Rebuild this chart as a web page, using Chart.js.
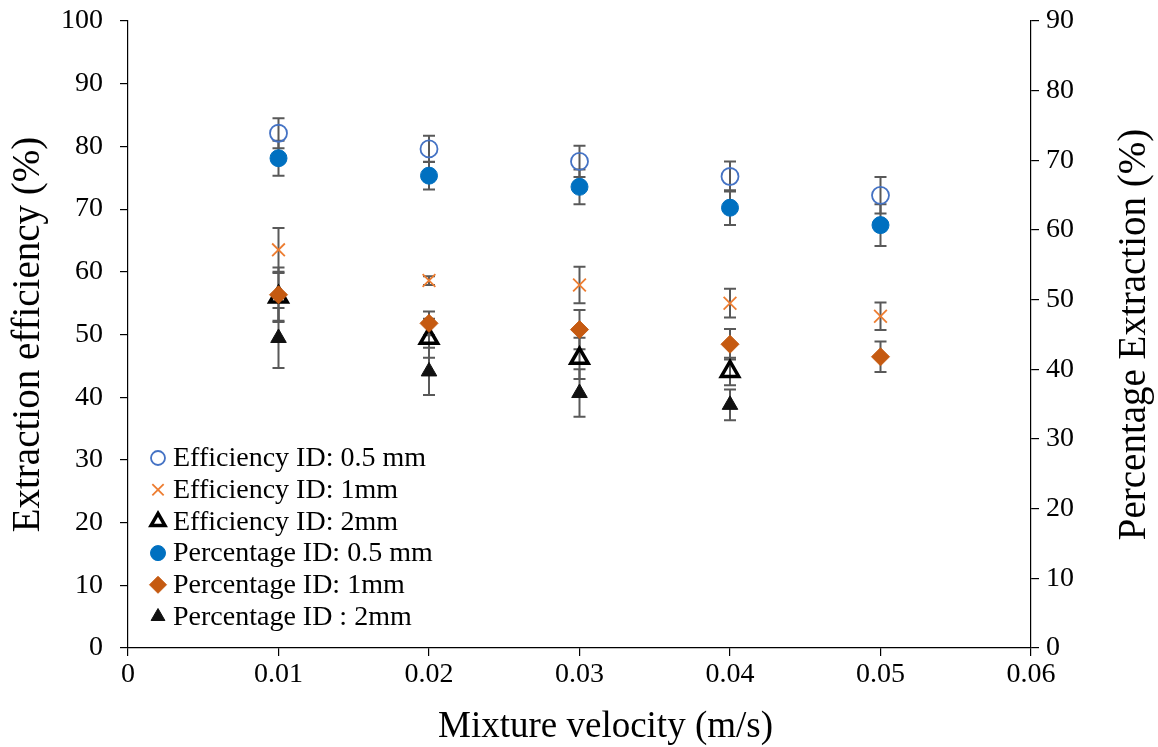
<!DOCTYPE html>
<html>
<head>
<meta charset="utf-8">
<script src="https://cdn.jsdelivr.net/npm/chart.js@4.4.1/dist/chart.umd.min.js"></script>
<style>
  html, body { margin: 0; padding: 0; background: #fff; }
  #wrap { width: 1158px; height: 747px; }
</style>
</head>
<body>
<div id="wrap"><canvas id="grafico" width="1158" height="747"></canvas></div>
<script>
// Datos
const velocidad = [0.01, 0.02, 0.03, 0.04, 0.05];
const ejeXTicks = [0, 0.01, 0.02, 0.03, 0.04, 0.05, 0.06];

const efic05 = [82.1, 79.6, 77.6, 75.2, 72.2];
const efic05Err = [2.4, 2.1, 2.5, 2.4, 2.9];
const efic1 = [63.5, 58.6, 57.9, 55.0, 52.9];
const efic1Err = [3.5, 0.7, 2.9, 2.3, 2.2];
const efic2 = [56.0, 49.4, 46.2, 44.1];
const efic2Err = [3.8, 3.1, 3.3, 2.2];

const porc05 = [70.3, 67.8, 66.2, 63.2, 60.7];
const porc05Err = [2.5, 2.0, 2.5, 2.5, 3.0];
const porc1 = [50.7, 46.6, 45.7, 43.6, 41.8];
const porc1Err = [3.9, 1.7, 2.8, 2.2, 2.2];
const porc2 = [44.5, 39.7, 36.6, 34.9];
const porc2Err = [4.3, 3.4, 3.4, 2.2];

const tituloX = "Mixture velocity (m/s)";
const tituloDerecho = "Percentage Extraction (%)";

const fuente = "'Liberation Serif', 'Times New Roman', serif";
Chart.defaults.font.family = fuente;
Chart.defaults.color = "#000";

const puntos = (valores) => valores.map((v, i) => ({ x: velocidad[i], y: v }));

// barras de error dibujadas con las escalas del grafico
const barrasError = {
  id: "barrasError",
  beforeDatasetsDraw(chart) {
    const ctx = chart.ctx;
    ctx.save();
    ctx.strokeStyle = "#595959";
    ctx.lineWidth = 2;
    chart.data.datasets.forEach((ds, i) => {
      const meta = chart.getDatasetMeta(i);
      const escala = chart.scales[ds.yAxisID];
      meta.data.forEach((pt, j) => {
        const v = ds.data[j].y;
        const e = ds.errores[j];
        const arriba = escala.getPixelForValue(v + e);
        const abajo = escala.getPixelForValue(v - e);
        ctx.beginPath();
        ctx.moveTo(pt.x, arriba);
        ctx.lineTo(pt.x, abajo);
        ctx.moveTo(pt.x - 6, arriba);
        ctx.lineTo(pt.x + 6, arriba);
        ctx.moveTo(pt.x - 6, abajo);
        ctx.lineTo(pt.x + 6, abajo);
        ctx.stroke();
      });
    });
    ctx.restore();
  },
};

// leyenda dentro del area, titulo X y titulo del eje derecho (de abajo hacia arriba)
const leyenda = {
  id: "leyenda",
  afterDraw(chart) {
    const ctx = chart.ctx;
    const area = chart.chartArea;
    ctx.save();
    ctx.font = "28px " + fuente;
    ctx.textBaseline = "middle";
    ctx.textAlign = "left";
    chart.data.datasets.forEach((ds, i) => {
      const y = area.top + 437 + i * 31.7;
      const x = area.left + 30;
      ctx.fillStyle = ds.backgroundColor;
      ctx.strokeStyle = ds.borderColor;
      ctx.lineWidth = ds.borderWidth;
      Chart.helpers.drawPoint(
        ctx,
        {
          pointStyle: ds.pointStyle,
          radius: ds.radioLeyenda,
          borderWidth: ds.borderWidth,
          rotation: 0,
        },
        x,
        y
      );
      ctx.fillStyle = "#000";
      ctx.fillText(ds.label, x + 15, y + 1);
    });

    ctx.textAlign = "center";
    ctx.font = "37px " + fuente;
    ctx.fillText(tituloX, (area.left + area.right) / 2 + 26, chart.height - 20);

    const der = chart.scales.y1;
    ctx.translate(der.right - 23, (area.top + area.bottom) / 2);
    ctx.rotate(-Math.PI / 2);
    ctx.font = "39px " + fuente;
    ctx.fillText(tituloDerecho, 0, 0);
    ctx.restore();
  },
};

const sinRellenoV = (ancho) => (s) => {
  s.width = ancho;
  s.paddingTop = 0;
  s.paddingBottom = 0;
};

new Chart(document.getElementById("grafico"), {
  type: "scatter",
  data: {
    datasets: [
      {
        label: "Efficiency ID: 0.5 mm",
        data: puntos(efic05),
        errores: efic05Err,
        yAxisID: "y",
        pointStyle: "circle",
        pointRadius: 8.5,
        radioLeyenda: 7,
        borderWidth: 1.8,
        borderColor: "#4472C4",
        backgroundColor: "rgba(255,255,255,0)",
        order: 2,
      },
      {
        label: "Efficiency ID: 1mm",
        data: puntos(efic1),
        errores: efic1Err,
        yAxisID: "y",
        pointStyle: "crossRot",
        pointRadius: 9,
        radioLeyenda: 8,
        borderWidth: 1.8,
        borderColor: "#ED7D31",
        backgroundColor: "#ED7D31",
        order: 2,
      },
      {
        label: "Efficiency ID: 2mm",
        data: puntos(efic2),
        errores: efic2Err,
        yAxisID: "y",
        pointStyle: "triangle",
        pointRadius: 10,
        radioLeyenda: 8,
        borderWidth: 3.5,
        borderColor: "#000",
        backgroundColor: "rgba(255,255,255,0)",
        order: 2,
      },
      {
        label: "Percentage ID: 0.5 mm",
        data: puntos(porc05),
        errores: porc05Err,
        yAxisID: "y1",
        pointStyle: "circle",
        pointRadius: 8.5,
        radioLeyenda: 7.5,
        borderWidth: 1,
        borderColor: "#0070C0",
        backgroundColor: "#0070C0",
        order: 1,
      },
      {
        label: "Percentage ID: 1mm",
        data: puntos(porc1),
        errores: porc1Err,
        yAxisID: "y1",
        pointStyle: "rectRot",
        pointRadius: 9,
        radioLeyenda: 8.5,
        borderWidth: 1,
        borderColor: "#C55A11",
        backgroundColor: "#C55A11",
        order: 1,
      },
      {
        label: "Percentage ID : 2mm",
        data: puntos(porc2),
        errores: porc2Err,
        yAxisID: "y1",
        pointStyle: "triangle",
        pointRadius: 9,
        radioLeyenda: 8,
        borderWidth: 1,
        borderColor: "#111",
        backgroundColor: "#111",
        order: 1,
      },
    ],
  },
  options: {
    responsive: false,
    animation: false,
    events: [],
    layout: { padding: { top: 21, left: 0, right: 0, bottom: 0 } },
    scales: {
      x: {
        type: "linear",
        min: 0,
        max: 0.06,
        afterBuildTicks: (s) => {
          s.ticks = ejeXTicks.map((v) => ({ value: v }));
        },
        afterFit: (s) => {
          s.height = 99;
          s.paddingLeft = 0;
          s.paddingRight = 0;
        },
        ticks: {
          padding: 2,
          font: { size: 28 },
          callback: (v) => (v === 0 ? "0" : v.toFixed(2)),
        },
        grid: { drawOnChartArea: false, tickLength: 8, color: "#000", lineWidth: 1.2 },
        border: { color: "#000", width: 1.2 },
        title: { display: false },
      },
      y: {
        position: "left",
        min: 0,
        max: 100,
        afterFit: sinRellenoV(128),
        ticks: { stepSize: 10, padding: 17, font: { size: 28 } },
        grid: { drawOnChartArea: false, tickLength: 8, color: "#000", lineWidth: 1.2 },
        border: { color: "#000", width: 1.2 },
        title: {
          display: true,
          text: "Extraction efficiency (%)",
          font: { size: 39, lineHeight: 1.05 },
          padding: { top: 8, bottom: 0 },
        },
      },
      y1: {
        position: "right",
        min: 0,
        max: 90,
        afterFit: sinRellenoV(127),
        ticks: { stepSize: 10, padding: 7, font: { size: 28 } },
        grid: { drawOnChartArea: false, tickLength: 8, color: "#000", lineWidth: 1.2 },
        border: { color: "#000", width: 1.2 },
        title: { display: false },
      },
    },
    plugins: {
      legend: { display: false },
      tooltip: { enabled: false },
    },
  },
  plugins: [barrasError, leyenda],
});
</script>
</body>
</html>
